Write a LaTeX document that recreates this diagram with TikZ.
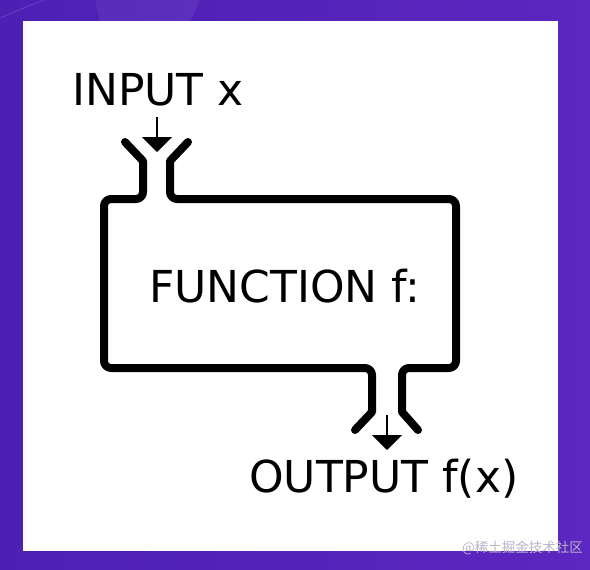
\documentclass[tikz,border=0pt]{standalone}
\usepackage{fontspec}
\setmainfont{DejaVu Sans}
\newfontfamily\cjk{Noto Sans CJK SC}
\definecolor{bgpurple}{HTML}{4D20B4}
\definecolor{bgpurpleB}{HTML}{5C26C0}
\definecolor{wmgray}{HTML}{B9B4C8}
\usetikzlibrary{arrows.meta}
\tikzset{
  label text/.style={inner sep=0pt, anchor=base west, font=\fontsize{44}{50}\selectfont},
  pipe/.style={line width=8pt, line cap=round, line join=round},
  flowarrow/.style={line width=1.8pt, -{Triangle[length=15pt,width=30pt]}},
}
\begin{document}
\begin{tikzpicture}[x=1pt,y=-1pt]
\useasboundingbox (0,0) rectangle (590,570);
\shade[left color=bgpurple, right color=bgpurpleB] (0,0) rectangle (590,570);
% faint decorations top-left
\draw[white, opacity=0.15, line width=0.8pt] (0,18) .. controls (20,10) and (40,0) .. (52,-2);
\fill[white, opacity=0.06] (95,0) -- (200,0) -- (190,22) -- (100,22) -- cycle;
\fill[white] (23,21) rectangle (558,551);
% function box with input/output funnels
\draw[pipe] (125,142) -- (143,161) [rounded corners=7pt] -- (143,199) -- (104,199) -- (104,368)
  -- (372,368) [sharp corners] -- (372,412) -- (355,430);
\draw[pipe] (418,430) -- (402,412) [rounded corners=7pt] -- (402,368) -- (456,368) -- (456,199)
  -- (170,199) [sharp corners] -- (170,161) -- (188,142);
\coordinate (inA) at (157,117);
\coordinate (inB) at (157,152);
\coordinate (outA) at (387,415);
\coordinate (outB) at (387,450);
\draw[flowarrow] (inA) -- (inB);
\draw[flowarrow] (outA) -- (outB);
\node[label text] (input) at (72,105) {INPUT x};
\node[label text] (func) at (149,302) {FUNCTION f:};
\node[label text] (output) at (249,492) {OUTPUT f(x)};
\node[inner sep=0pt, anchor=base west, text=wmgray, font=\cjk\fontsize{13.5}{15}\selectfont] (wm) at (462,552) {@稀土掘金技术社区};
\end{tikzpicture}
\end{document}
